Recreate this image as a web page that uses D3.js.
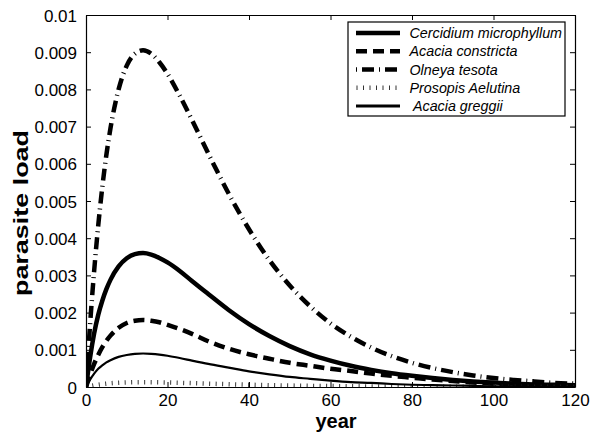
<!DOCTYPE html>
<html>
<head>
<meta charset="utf-8">
<script src="https://cdn.jsdelivr.net/npm/d3@7"></script>
<style>
  html, body { margin: 0; padding: 0; background: #fff; }
  svg { display: block; font-family: "Liberation Sans", Arial, Helvetica, sans-serif; }
</style>
</head>
<body>
<svg id="chart" width="598" height="434"></svg>
<script>
// ---- data ----
const years = [0, 1, 2, 3, 4, 5, 6, 8, 10, 12, 14, 16, 18, 20, 23, 26, 30, 35, 40, 45, 50, 55, 60, 65, 70, 75, 80, 85, 90, 95, 100, 105, 110, 115, 120];

const cercidium = [0, 0.00079, 0.00144, 0.00194, 0.00232, 0.00263, 0.00288, 0.00324, 0.00346, 0.00357, 0.00360, 0.00356, 0.00347, 0.00335, 0.00312, 0.00285, 0.00250, 0.00207, 0.00169, 0.00137, 0.00110, 0.00088, 0.00071, 0.00057, 0.00046, 0.00037, 0.00030, 0.00024, 0.00019, 0.00015, 0.00012, 0.00009, 0.00007, 0.00006, 0.00005];

const constricta = [0, 0.00033, 0.00062, 0.00086, 0.00107, 0.00124, 0.00138, 0.00159, 0.00172, 0.00178, 0.00180, 0.00178, 0.00174, 0.00167, 0.00156, 0.00143, 0.00123, 0.00103, 0.00088, 0.00076, 0.00065, 0.00057, 0.00049, 0.00043, 0.00036, 0.00030, 0.00025, 0.00020, 0.00016, 0.00012, 0.00009, 0.00007, 0.00005, 0.00004, 0.00003];

const olneya = [0, 0.00168, 0.00312, 0.00434, 0.00537, 0.00624, 0.00695, 0.00800, 0.00864, 0.00896, 0.00905, 0.00896, 0.00873, 0.00842, 0.00783, 0.00718, 0.00628, 0.00520, 0.00424, 0.00341, 0.00273, 0.00217, 0.00171, 0.00135, 0.00106, 0.00083, 0.00065, 0.00051, 0.00040, 0.00031, 0.00024, 0.00019, 0.00015, 0.00011, 0.00009];

const prosopis = [0, 0.000024, 0.000045, 0.000062, 0.000077, 0.000090, 0.000100, 0.000115, 0.000124, 0.000129, 0.000130, 0.000129, 0.000125, 0.000121, 0.000113, 0.000103, 0.000090, 0.000075, 0.000061, 0.000049, 0.000039, 0.000031, 0.000025, 0.000019, 0.000015, 0.000012, 0.000009, 0.000007, 0.000006, 0.000004, 0.000003, 0.000003, 0.000002, 0.000002, 0.000001];

const greggii = [0, 0.00020, 0.00036, 0.00049, 0.00058, 0.00066, 0.00072, 0.00081, 0.00086, 0.00089, 0.00090, 0.00089, 0.00087, 0.00084, 0.00078, 0.00071, 0.00062, 0.00052, 0.00042, 0.00034, 0.00027, 0.00022, 0.00017, 0.00013, 0.00011, 0.00008, 0.00006, 0.00005, 0.00004, 0.00003, 0.00002, 0.00002, 0.00001, 0.00001, 0.00001];

const seriesNames = ["Cercidium microphyllum", "Acacia constricta", "Olneya tesota", "Prosopis Aelutina", " Acacia greggii"];

const xTicks = [0, 20, 40, 60, 80, 100, 120];
const yTicks = [0, 0.001, 0.002, 0.003, 0.004, 0.005, 0.006, 0.007, 0.008, 0.009, 0.01];
const yTickLabels = ["0", "0.001", "0.002", "0.003", "0.004", "0.005", "0.006", "0.007", "0.008", "0.009", "0.01"];

const xLabel = "year";
const yLabel = "parasite load";

(function () {
// ---- layout ----
const pLeft = 86, pRight = 575, pTop = 15, pBottom = 387;
const svg = d3.select("#chart");

const x = d3.scaleLinear().domain([0, 120]).range([pLeft, pRight]);
const y = d3.scaleLinear().domain([0, 0.01]).range([pBottom, pTop]);

const styles = [
  { width: 4.5, dash: null },
  { width: 4.5, dash: "11 6" },
  { width: 4.5, dash: "12 5 1 5" },
  { width: 4.5, dash: "1 5.5", color: "#333" },
  { width: 2.2, dash: null }
];
const seriesData = [cercidium, constricta, olneya, prosopis, greggii];

svg.append("defs").append("clipPath").attr("id", "plotclip")
  .append("rect").attr("x", pLeft).attr("y", pTop)
  .attr("width", pRight - pLeft).attr("height", pBottom - pTop);

const line = d3.line()
  .x((d, i) => x(years[i]))
  .y(d => y(d))
  .curve(d3.curveMonotoneX);

const gLines = svg.append("g").attr("clip-path", "url(#plotclip)");
seriesData.forEach((vals, k) => {
  const st = styles[k];
  gLines.append("path")
    .datum(vals)
    .attr("d", line)
    .attr("fill", "none")
    .attr("stroke", st.color || "#000")
    .attr("stroke-width", st.width)
    .attr("stroke-linecap", "butt")
    .attr("stroke-linejoin", "round")
    .attr("stroke-dasharray", st.dash);
});

// ---- axes (box with inward ticks on all sides) ----
const tickLen = 5;
const axisB = d3.axisBottom(x).tickValues(xTicks).tickSizeInner(-tickLen).tickSizeOuter(0).tickPadding(7);
const axisT = d3.axisTop(x).tickValues(xTicks).tickSizeInner(-tickLen).tickSizeOuter(0).tickFormat("");
const axisL = d3.axisLeft(y).tickValues(yTicks).tickSizeInner(-tickLen).tickSizeOuter(0).tickPadding(9)
  .tickFormat((d, i) => yTickLabels[i]);
const axisR = d3.axisRight(y).tickValues(yTicks).tickSizeInner(-tickLen).tickSizeOuter(0).tickFormat("");

function styleAxis(g) {
  g.select(".domain").attr("stroke", "#000").attr("stroke-width", 1.2);
  g.selectAll(".tick line").attr("stroke", "#000").attr("stroke-width", 1);
  g.selectAll(".tick text").attr("fill", "#000")
    .style("font-family", '"Liberation Sans", Arial, Helvetica, sans-serif')
    .style("font-size", "17px");
}

svg.append("g").attr("transform", `translate(0,${pBottom})`).call(axisB).call(styleAxis)
  .selectAll(".tick text").attr("dy", "0.71em");
svg.append("g").attr("transform", `translate(0,${pTop})`).call(axisT).call(styleAxis);
svg.append("g").attr("transform", `translate(${pLeft},0)`).call(axisL).call(styleAxis)
  .selectAll(".tick text").attr("dy", "0.36em");
svg.append("g").attr("transform", `translate(${pRight},0)`).call(axisR).call(styleAxis);

// ---- axis labels ----
svg.append("text")
  .attr("x", 336).attr("y", 428)
  .attr("text-anchor", "middle")
  .style("font-size", "20px").style("font-weight", "bold")
  .text(xLabel);

svg.append("text")
  .attr("transform", "translate(28,213) rotate(-90)")
  .attr("text-anchor", "middle")
  .attr("textLength", 166)
  .attr("lengthAdjust", "spacingAndGlyphs")
  .style("font-size", "20px").style("font-weight", "bold")
  .text(yLabel);

// ---- legend ----
const lgX = 348, lgY = 22, lgW = 217, lgH = 94;
const lg = svg.append("g");
lg.append("rect").attr("x", lgX).attr("y", lgY).attr("width", lgW).attr("height", lgH)
  .attr("fill", "#fff").attr("stroke", "#000").attr("stroke-width", 1.2);

const rowY = d3.scaleLinear().domain([0, 4]).range([33, 106]);
seriesNames.forEach((name, k) => {
  const st = styles[k];
  const yy = rowY(k);
  lg.append("line")
    .attr("x1", 356).attr("x2", 400).attr("y1", yy).attr("y2", yy)
    .attr("stroke", st.color || "#000")
    .attr("stroke-width", k === 4 ? 3 : st.width)
    .attr("stroke-dasharray", k === 3 ? "1 5.5" : (k === 2 ? "1 5 12 5" : st.dash))
    .attr("stroke-dashoffset", k === 3 ? -0.5 : 0);
  lg.append("text")
    .attr("x", 409.5).attr("y", yy + 5)
    .style("font-size", "14.3px").style("font-style", "italic")
    .style("white-space", "pre")
    .text(name);
});
})();
</script>
</body>
</html>
